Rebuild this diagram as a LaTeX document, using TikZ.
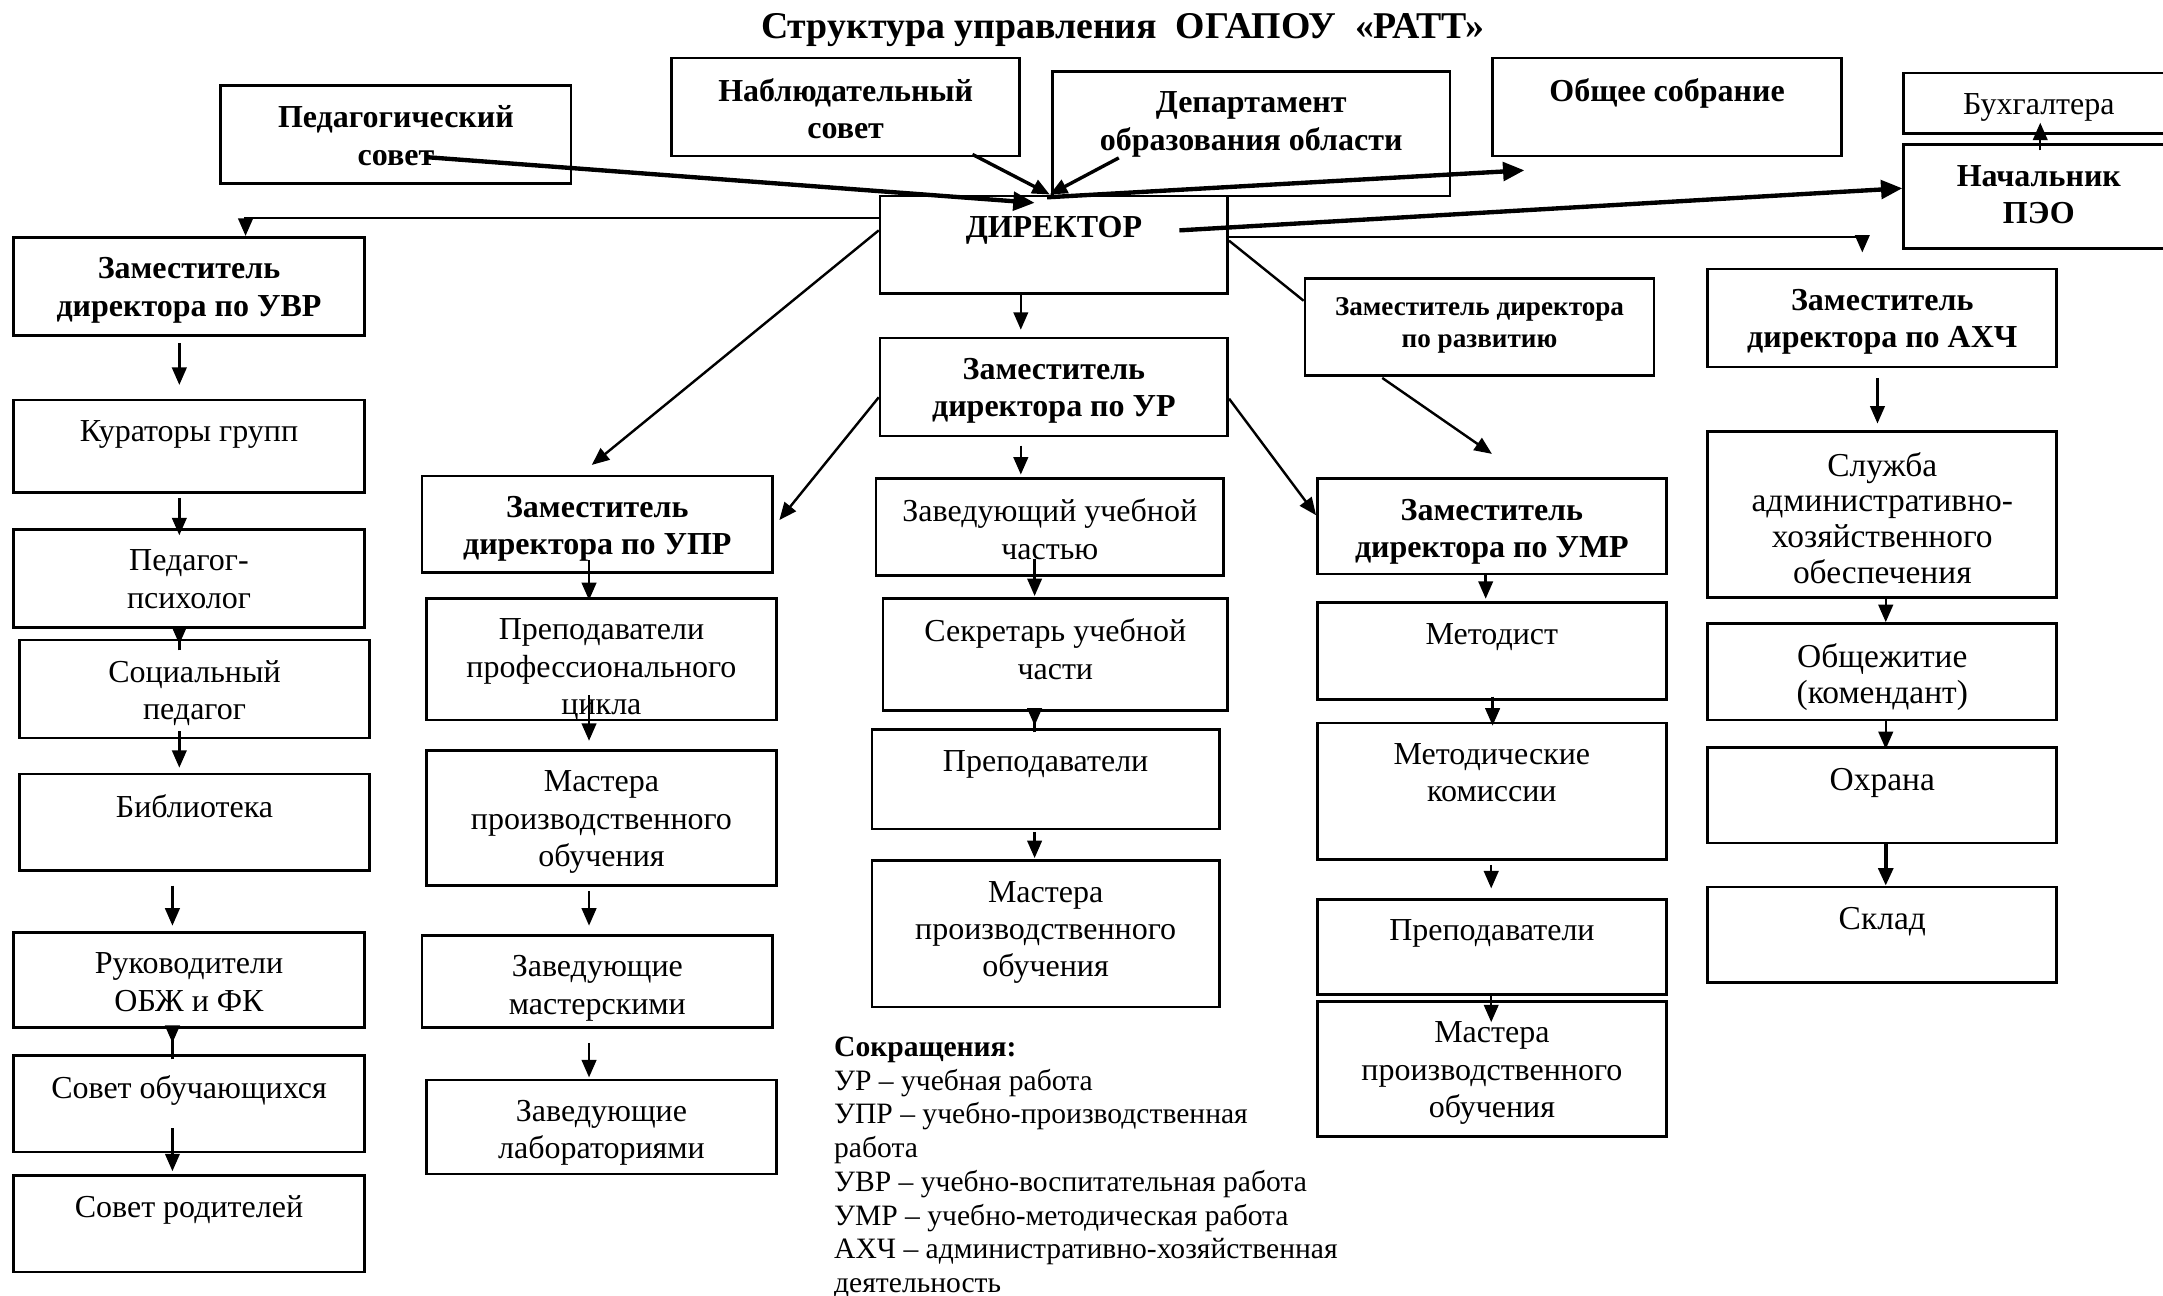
\documentclass[tikz,border=0pt]{standalone}
\usepackage{fontspec}
\setmainfont{Liberation Serif}
\usetikzlibrary{positioning, fit, arrows.meta}
\tikzset{
    box/.style={
        draw,
        rectangle,
        line width=0.55pt,
        inner sep=0pt
    },
    txt/.style={
        font=\fontsize{6.6}{7.7}\selectfont,
        align=center,
        inner sep=0pt
    },
    btxt/.style={
        txt,
        font=\fontsize{6.6}{7.7}\selectfont\bfseries
    },
    stxt/.style={
        txt,
        font=\fontsize{5.6}{6.5}\selectfont\bfseries
    },
    wtxt/.style={
        txt,
        font=\fontsize{6.9}{7.4}\selectfont
    },
    ltxt/.style={
        font=\fontsize{6.1}{6.95}\selectfont,
        align=left,
        inner sep=0pt
    },
    ttl/.style={
        font=\fontsize{7.8}{9}\selectfont\bfseries,
        inner sep=0pt
    },
    arr/.style={
        -{Triangle[length=3.6pt, width=3pt]},
        line width=0.5pt
    },
    warr/.style={
        -{Triangle[length=4.4pt, width=3.8pt]},
        line width=0.9pt
    },
    link/.style={
        line width=0.5pt
    }
}

\begin{document}
\begin{tikzpicture}[x=1cm, y=-1cm]
  \useasboundingbox (0,0) rectangle (15.68,9.39);

  % Title
  \node[ttl] (title) at (8.14,0.22) {Структура управления\ \ ОГАПОУ\ \ «РАТТ»};

  % Top row
  \node[box, fit={(1.60,0.62) (4.14,1.33)}] (ped) {};
  \node[btxt, below=0.15cm of ped.north] (pedT) {Педагогический\\совет};
  \node[box, fit={(4.87,0.42) (7.39,1.13)}] (nab) {};
  \node[btxt, below=0.15cm of nab.north] (nabT) {Наблюдательный\\совет};
  \node[box, fit={(7.63,0.52) (10.51,1.42)}] (dep) {};
  \node[btxt, below=0.15cm of dep.north] (depT) {Департамент\\образования области};
  \node[box, fit={(10.82,0.42) (13.35,1.13)}] (obsh) {};
  \node[btxt, below=0.15cm of obsh.north] (obshT) {Общее собрание};
  \node[box, fit={(13.80,0.53) (15.76,0.97)}] (buh) {};
  \node[txt, below=0.15cm of buh.north] (buhT) {Бухгалтера};
  \node[box, fit={(13.80,1.05) (15.76,1.80)}] (peo) {};
  \node[btxt, below=0.15cm of peo.north] (peoT) {Начальник\\ПЭО};

  % Director and deputies
  \node[box, fit={(6.38,1.42) (8.90,2.13)}] (dir) {};
  \node[btxt, below=0.15cm of dir.north] (dirT) {ДИРЕКТОР};
  \node[box, fit={(0.10,1.72) (2.64,2.43)}] (zuvr) {};
  \node[btxt, below=0.15cm of zuvr.north] (zuvrT) {Заместитель\\директора по УВР};
  \node[box, fit={(6.38,2.45) (8.90,3.16)}] (zur) {};
  \node[btxt, below=0.15cm of zur.north] (zurT) {Заместитель\\директора по УР};
  \node[box, fit={(9.46,2.02) (11.99,2.72)}] (zrazv) {};
  \node[stxt, below=0.14cm of zrazv.north] (zrazvT) {Заместитель директора\\по развитию};
  \node[box, fit={(12.38,1.95) (14.91,2.66)}] (zahch) {};
  \node[btxt, below=0.15cm of zahch.north] (zahchT) {Заместитель\\директора по АХЧ};
  \node[box, fit={(3.06,3.45) (5.60,4.15)}] (zupr) {};
  \node[btxt, below=0.15cm of zupr.north] (zuprT) {Заместитель\\директора по УПР};
  \node[box, fit={(9.55,3.47) (12.08,4.16)}] (zumr) {};
  \node[btxt, below=0.15cm of zumr.north] (zumrT) {Заместитель\\директора по УМР};

  % УВР column
  \node[box, fit={(0.10,2.90) (2.64,3.57)}] (kur) {};
  \node[txt, below=0.15cm of kur.north] (kurT) {Кураторы групп};
  \node[box, fit={(0.10,3.84) (2.64,4.55)}] (psy) {};
  \node[txt, below=0.15cm of psy.north] (psyT) {Педагог-\\психолог};
  \node[box, fit={(0.14,4.64) (2.68,5.35)}] (soc) {};
  \node[txt, below=0.15cm of soc.north] (socT) {Социальный\\педагог};
  \node[box, fit={(0.14,5.61) (2.68,6.31)}] (bib) {};
  \node[txt, below=0.15cm of bib.north] (bibT) {Библиотека};
  \node[box, fit={(0.10,6.76) (2.64,7.45)}] (ruk) {};
  \node[txt, below=0.15cm of ruk.north] (rukT) {Руководители\\ОБЖ и ФК};
  \node[box, fit={(0.10,7.65) (2.64,8.35)}] (sob) {};
  \node[txt, below=0.15cm of sob.north] (sobT) {Совет обучающихся};
  \node[box, fit={(0.10,8.52) (2.64,9.22)}] (srod) {};
  \node[txt, below=0.15cm of srod.north] (srodT) {Совет родителей};

  % УПР column
  \node[box, fit={(3.09,4.34) (5.63,5.22)}] (prof) {};
  \node[txt, below=0.15cm of prof.north] (profT) {Преподаватели\\профессионального\\цикла};
  \node[box, fit={(3.09,5.44) (5.63,6.42)}] (mupr) {};
  \node[txt, below=0.15cm of mupr.north] (muprT) {Мастера\\производственного\\обучения};
  \node[box, fit={(3.06,6.78) (5.60,7.45)}] (zmast) {};
  \node[txt, below=0.15cm of zmast.north] (zmastT) {Заведующие\\мастерскими};
  \node[box, fit={(3.09,7.83) (5.63,8.51)}] (zlab) {};
  \node[txt, below=0.15cm of zlab.north] (zlabT) {Заведующие\\лабораториями};

  % УР column
  \node[box, fit={(6.35,3.47) (8.87,4.17)}] (zuch) {};
  \node[txt, below=0.15cm of zuch.north] (zuchT) {Заведующий учебной\\частью};
  \node[box, fit={(6.40,4.34) (8.90,5.15)}] (sekr) {};
  \node[txt, below=0.15cm of sekr.north] (sekrT) {Секретарь учебной\\части};
  \node[box, fit={(6.32,5.29) (8.84,6.01)}] (prur) {};
  \node[txt, below=0.15cm of prur.north] (prurT) {Преподаватели};
  \node[box, fit={(6.32,6.24) (8.84,7.30)}] (mur) {};
  \node[txt, below=0.15cm of mur.north] (murT) {Мастера\\производственного\\обучения};

  % УМР column
  \node[box, fit={(9.55,4.37) (12.08,5.07)}] (met) {};
  \node[txt, below=0.15cm of met.north] (metT) {Методист};
  \node[box, fit={(9.55,5.24) (12.08,6.23)}] (mkom) {};
  \node[txt, below=0.15cm of mkom.north] (mkomT) {Методические\\комиссии};
  \node[box, fit={(9.55,6.52) (12.08,7.21)}] (prumr) {};
  \node[txt, below=0.15cm of prumr.north] (prumrT) {Преподаватели};
  \node[box, fit={(9.55,7.26) (12.08,8.24)}] (mumr) {};
  \node[txt, below=0.15cm of mumr.north] (mumrT) {Мастера\\производственного\\обучения};

  % АХЧ column
  \node[box, fit={(12.38,3.13) (14.91,4.33)}] (aho) {};
  \node[wtxt, below=0.15cm of aho.north] (ahoT) {Служба\\административно-\\хозяйственного\\обеспечения};
  \node[box, fit={(12.38,4.52) (14.91,5.22)}] (obj) {};
  \node[wtxt, below=0.15cm of obj.north] (objT) {Общежитие\\(комендант)};
  \node[box, fit={(12.38,5.42) (14.91,6.11)}] (ohr) {};
  \node[wtxt, below=0.15cm of ohr.north] (ohrT) {Охрана};
  \node[box, fit={(12.38,6.43) (14.91,7.12)}] (skl) {};
  \node[wtxt, below=0.15cm of skl.north] (sklT) {Склад};

  % Abbreviations
  \node[ltxt, anchor=north west] (abbr) at (6.04,7.51) {\textbf{Сокращения:}\\
    УР – учебная работа\\
    УПР – учебно-производственная\\
    работа\\
    УВР – учебно-воспитательная работа\\
    УМР – учебно-методическая работа\\
    АХЧ – административно-хозяйственная\\
    деятельность};

  % Links around the director
  \coordinate (dirIn) at ([xshift=-0.03cm]dir.north);
  \draw[warr] ([xshift=0.23cm, yshift=-0.165cm]ped.center) -- ([xshift=-0.14cm, yshift=-0.06cm]dir.north);
  \draw[arr, line width=0.7pt] ([xshift=-0.35cm, yshift=0.02cm]nab.south east) -- (dirIn);
  \draw[arr, line width=0.7pt] ([xshift=0.49cm, yshift=0.285cm]dep.south west) -- (dirIn);
  \draw[warr] ([xshift=-0.02cm, yshift=-0.02cm]dirIn) -- ([xshift=0.24cm, yshift=-0.095cm]obsh.south west);
  \draw[warr] ([xshift=-0.36cm, yshift=0.105cm]dir.east) -- ([yshift=0.06cm]peo.west);
  \draw[arr, shorten <=-0.05cm, shorten >=-0.09cm] (14.79,0 |- peo.north) -- (14.79,0 |- buh.south);
  \draw[arr] ([yshift=0.195cm]dir.west) -| ([xshift=0.41cm]zuvr.north);
  \draw[arr] ([yshift=0.055cm]dir.east) -| ([xshift=-0.145cm, yshift=0.11cm]zahch.north);
  \draw[link] ([yshift=0.03cm]dir.east) -- ([yshift=-0.17cm]zrazv.north west);
  \draw[arr] ([yshift=0.105cm]dir.west) -- ([xshift=-0.04cm, yshift=0.07cm]zupr.north);
  \draw[arr, shorten >=0.05cm] (7.40,0 |- dir.south) -- (7.40,0 |- zur.north);
  \draw[arr] ([yshift=-0.075cm]zur.west) -- ([xshift=0.04cm, yshift=0.03cm]zupr.east);
  \draw[arr] ([yshift=-0.085cm]zur.east) -- ([yshift=0.08cm]zumr.west);
  \draw[arr] ([xshift=-0.705cm, yshift=-0.01cm]zrazv.south) -- ([yshift=0.17cm]zumr.north);

  % УВР column arrows
  \draw[arr, shorten <=0.05cm, shorten >=0.10cm] (1.30,0 |- zuvr.south) -- (1.30,0 |- kur.north);
  \draw[arr, shorten <=0.03cm, shorten >=-0.05cm] (1.30,0 |- kur.south) -- (1.30,0 |- psy.north);
  \draw[arr, shorten <=-0.155cm, shorten >=-0.04cm] (1.30,0 |- psy.south) -- (1.30,0 |- soc.north);
  \draw[arr, shorten <=-0.06cm, shorten >=0.035cm] (1.30,0 |- soc.south) -- (1.30,0 |- bib.north);
  \draw[arr, shorten <=0.10cm, shorten >=0.04cm] (1.25,0 |- bib.south) -- (1.25,0 |- ruk.north);
  \draw[arr, shorten <=-0.22cm, shorten >=0.08cm] (1.25,0 |- ruk.south) -- (1.25,0 |- sob.north);
  \draw[arr, shorten <=-0.18cm, shorten >=0.02cm] (1.25,0 |- sob.south) -- (1.25,0 |- srod.north);

  % УПР column arrows
  \draw[arr, shorten <=-0.10cm, shorten >=-0.02cm] (4.27,0 |- zupr.south) -- (4.27,0 |- prof.north);
  \draw[arr, shorten <=-0.19cm, shorten >=0.06cm] (4.27,0 |- prof.south) -- (4.27,0 |- mupr.north);
  \draw[arr, shorten <=0.03cm, shorten >=0.06cm] (4.27,0 |- mupr.south) -- (4.27,0 |- zmast.north);
  \draw[arr, shorten <=0.10cm, shorten >=0.01cm] (4.27,0 |- zmast.south) -- (4.27,0 |- zlab.north);

  % УР column arrows
  \draw[arr, shorten <=0.06cm, shorten >=0.02cm] (7.40,0 |- zur.south) -- (7.40,0 |- zuch.north);
  \draw[arr, shorten <=-0.13cm, shorten >=0.01cm] (7.50,0 |- zuch.south) -- (7.50,0 |- sekr.north);
  \draw[arr, shorten <=-0.15cm, shorten >=0.02cm] (7.50,0 |- sekr.south) -- (7.50,0 |- prur.north);
  \draw[arr, shorten <=0.01cm, shorten >=0.01cm] (7.50,0 |- prur.south) -- (7.50,0 |- mur.north);

  % УМР column arrows
  \draw[arr, shorten >=0.02cm] (10.77,0 |- zumr.south) -- (10.77,0 |- met.north);
  \draw[arr, shorten <=-0.03cm, shorten >=-0.03cm] (10.82,0 |- met.south) -- (10.82,0 |- mkom.north);
  \draw[arr, shorten <=0.03cm, shorten >=0.07cm] (10.81,0 |- mkom.south) -- (10.81,0 |- prumr.north);
  \draw[arr, shorten >=-0.16cm] (10.81,0 |- prumr.south) -- (10.81,0 |- mumr.north);

  % АХЧ column arrows
  \draw[arr, shorten <=0.07cm, shorten >=0.05cm] (13.61,0 |- zahch.south) -- (13.61,0 |- aho.north);
  \draw[arr] (13.67,0 |- aho.south) -- (13.67,0 |- obj.north);
  \draw[arr, shorten >=-0.02cm] (13.67,0 |- obj.south) -- (13.67,0 |- ohr.north);
  \draw[arr, line width=0.8pt] (13.67,0 |- ohr.south) -- (13.67,0 |- skl.north);
\end{tikzpicture}
\end{document}
